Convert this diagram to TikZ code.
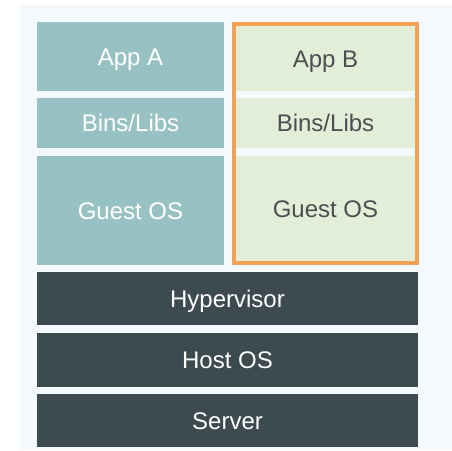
\documentclass[tikz,border=0pt]{standalone}
\usepackage{fontspec}
\setmainfont{Liberation Sans}
\usepackage{tikz}
\usetikzlibrary{positioning}

\definecolor{pagebg}{HTML}{F3F9FC}
\definecolor{vmteal}{HTML}{98C1C3}
\definecolor{vmgreen}{HTML}{E3EED8}
\definecolor{vmorange}{HTML}{F2A155}
\definecolor{stackdark}{HTML}{3D4A50}
\definecolor{textgray}{HTML}{4A5052}

\tikzset{
  cell/.style={inner sep=0pt, text height=17pt, text depth=0pt, font=\fontsize{24}{28}\selectfont},
  tealcell/.style={cell, fill=vmteal, text=white, minimum width=187pt},
  greencell/.style={cell, fill=vmgreen, text=textgray, minimum width=179pt},
  darkcell/.style={cell, fill=stackdark, text=white, minimum width=381pt},
}

\begin{document}
\begin{tikzpicture}[x=1pt, y=-1pt]
            \useasboundingbox (0,0) rectangle (452,450);
            \fill[pagebg] (20,5) rectangle (452,450);
            % left machine
            \node[tealcell, minimum height=69pt] (appA) at (130.5,56.5) {App A};
            \node[tealcell, minimum height=50pt] (binsA) at (130.5,123) {Bins/Libs};
            \node[tealcell, minimum height=109pt] (guestA) at (130.5,210.5) {Guest OS};
            % right machine
            \node[greencell, minimum height=65pt] (appB) at (325.5,58.5) {App B};
            \node[greencell, minimum height=50pt] (binsB) at (325.5,123) {Bins/Libs};
            \node[greencell, minimum height=105pt] (guestB) at (325.5,208.5) {Guest OS};
            \draw[vmorange, line width=4pt] (234,24) rectangle (417,263);
            % shared stack
            \node[darkcell, minimum height=53pt] (hyper) at (227.5,298.5) {Hypervisor};
            \node[darkcell, minimum height=54pt] (host) at (227.5,360) {Host OS};
            \node[darkcell, minimum height=53pt] (server) at (227.5,420.5) {Server};
        \end{tikzpicture}
\end{document}
